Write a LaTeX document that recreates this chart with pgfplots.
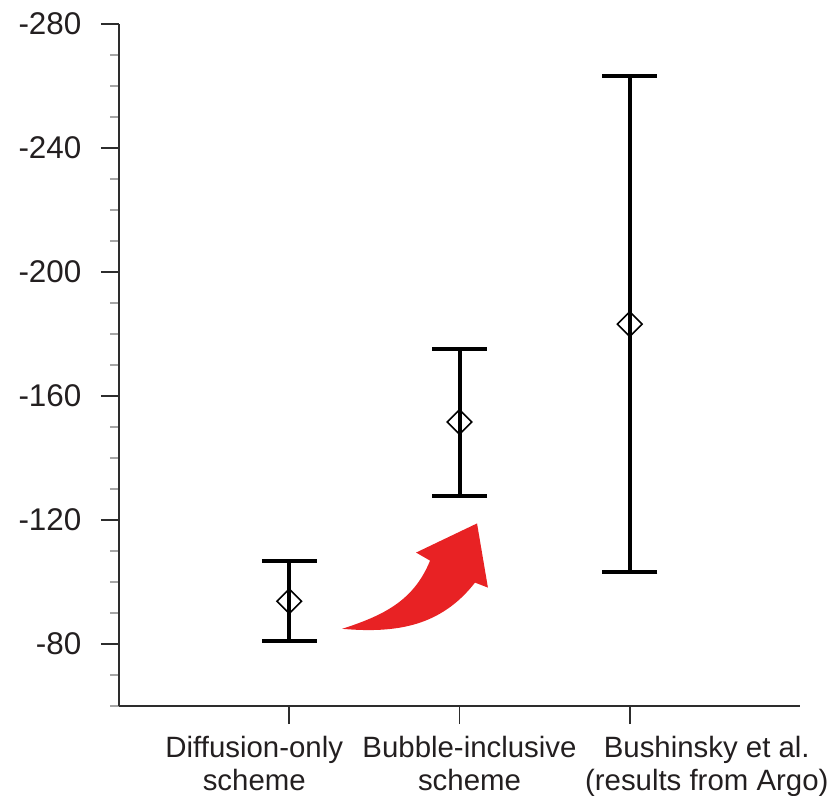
\documentclass[border=0pt]{standalone}
\usepackage{fontspec}
\setmainfont{Liberation Sans}
\usepackage{pgfplots}
\pgfplotsset{compat=1.18}
\definecolor{arrowred}{RGB}{232,34,36}
\definecolor{axgray}{RGB}{45,45,45}
\definecolor{txt}{RGB}{35,31,32}
\begin{document}
\fontsize{31.5}{36}\selectfont
\begin{tikzpicture}
\begin{axis}[
  scale only axis, width=681bp, height=682bp,
  xmin=0, xmax=4, ymin=-280, ymax=-60, y dir=reverse,
  axis x line*=bottom, axis y line*=left,
  axis line style={line width=1.6bp, color=axgray},
  tick align=outside,
  major tick length=18bp, minor tick length=9bp,
  major tick style={line width=1.6bp, color=axgray},
  minor tick style={line width=1.6bp, color=gray!70},
  xtick={1,2,3},
  xticklabels={},
  yticklabel style={font=\fontsize{31.5}{36}\selectfont, text=txt, xshift=-9bp},
  ytick={-280,-240,-200,-160,-120,-80},
  minor ytick={-270,-260,...,-60},
  /pgf/number format/assume math mode=true,
  clip=false,
]
\addplot[only marks, mark=square,
  mark options={rotate=45, line width=1.6bp, fill=none, draw=black, mark size=8.7bp},
  error bars/.cd, y dir=both, y explicit,
  error bar style={line width=4bp, black},
  error mark options={rotate=90, line width=4bp, mark size=27.5bp, black}]
  coordinates {
    (1,-93.8)  += (0,12.7) -= (0,13.1)
    (2,-151.6) += (0,23.7) -= (0,23.7)
    (3,-183.2) += (0,80.1) -= (0,79.9)
  };
\fill[arrowred] (axis cs:1.311,-84.9) to[out=18,in=-112] (axis cs:1.827,-106.9)
  -- (axis cs:1.745,-109.5) -- (axis cs:2.103,-118.9) -- (axis cs:2.167,-98.2)
  -- (axis cs:2.091,-99.8) to[out=-128,in=-5] (axis cs:1.311,-84.9) -- cycle;
\begin{scope}[every node/.style={anchor=north, align=center, inner sep=0pt, text=txt,
    font=\fontsize{29.5}{33}\selectfont, yshift=-30bp}]
\node[xshift=-35bp] at (axis cs:1,-60) {Diffusion-only\\[0bp]scheme};
\node[xshift=10bp] at (axis cs:2,-60) {Bubble-inclusive\\[0bp]scheme};
\node[xshift=77bp] at (axis cs:3,-60) {Bushinsky et al.\\[0bp](results from Argo)};
\end{scope}
\coordinate (bl) at (axis cs:0,-60);
\coordinate (tr) at (axis cs:4,-280);
\end{axis}
\pgfresetboundingbox
\path ([shift={(-119bp,-90bp)}]bl) rectangle ([shift={(28bp,24bp)}]tr);
\end{tikzpicture}
\end{document}
